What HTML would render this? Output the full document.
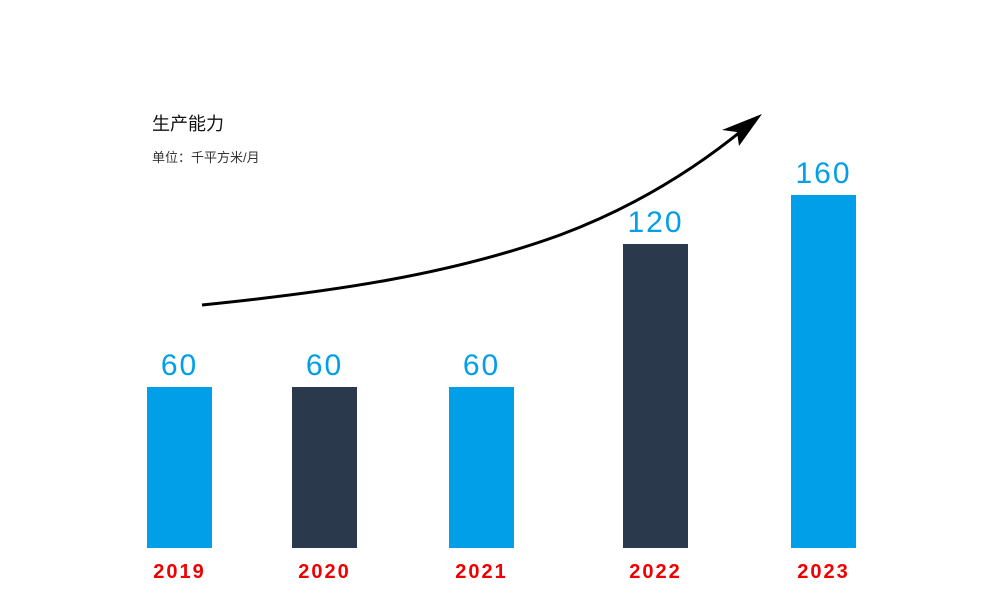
<!DOCTYPE html>
<html><head><meta charset="utf-8">
<style>
body{margin:0;background:#fff;}
svg{display:block;font-family:"Liberation Sans","Noto Sans CJK SC",sans-serif;}
</style></head>
<body>
<svg id="chart" width="1000" height="595" viewBox="0 0 1000 595">
  <text x="152" y="130" font-size="18" fill="#111">生产能力</text>
  <text x="152" y="162" font-size="13" fill="#333">单位：千平方米/月</text>
  <g>
    <path d="M202,305 C330,292 450,275 560,235 C640,205 700,165 745,128" fill="none" stroke="#000" stroke-width="3"/>
    <polygon points="762,114 722,130 737,132 739,146" fill="#000"/>
  </g>
  <g id="bars"></g>
</svg>
<script>
const categories = ["2019","2020","2021","2022","2023"];
const values = [60, 60, 60, 120, 160];
const labels = ["60","60","60","120","160"];

const centers = [179.5, 324.5, 481.5, 655.5, 823.5];
const barW = 65, baseY = 548;
const domain = [0, 60, 120, 160, 200];
const range = [0, 161, 304, 353, 402];
function yScale(v){
  for(let i=1;i<domain.length;i++){
    if(v<=domain[i]||i===domain.length-1){
      const t=(v-domain[i-1])/(domain[i]-domain[i-1]);
      return baseY-(range[i-1]+t*(range[i]-range[i-1]));
    }
  }
}
function xScale(i){return centers[i];}
const ns="http://www.w3.org/2000/svg";
const g=document.getElementById("bars");
categories.forEach((c,i)=>{
  const x=xScale(i)-barW/2, y=yScale(values[i]);
  const r=document.createElementNS(ns,"rect");
  r.setAttribute("x",x);r.setAttribute("y",y);
  r.setAttribute("width",barW);r.setAttribute("height",baseY-y);
  r.setAttribute("fill", i%2===0?"#009fe8":"#2a394b");
  
  
  g.appendChild(r);
  const t=document.createElementNS(ns,"text");
  t.setAttribute("x",xScale(i));t.setAttribute("y",y-12);
  t.setAttribute("text-anchor","middle");t.setAttribute("font-size","30");
  t.setAttribute("fill","#009fe8");t.setAttribute("letter-spacing","2");
  t.textContent=labels[i];
  
  
  g.appendChild(t);
  const yl=document.createElementNS(ns,"text");
  yl.setAttribute("x",xScale(i));yl.setAttribute("y",578);
  yl.setAttribute("text-anchor","middle");yl.setAttribute("font-size","20");
  yl.setAttribute("font-weight","bold");yl.setAttribute("fill","#ee0000");
  yl.setAttribute("letter-spacing","2");
  yl.textContent=c;
  
  
  g.appendChild(yl);
});
</script>
</body></html>
